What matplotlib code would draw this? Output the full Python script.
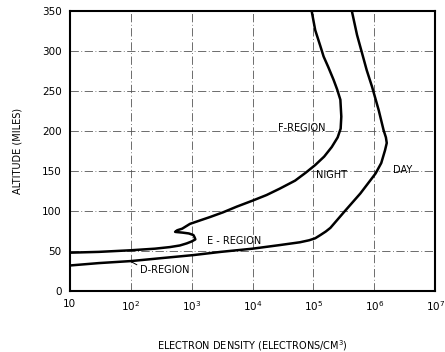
import numpy as np
import matplotlib.pyplot as plt
import matplotlib.ticker as ticker

# night profile (electrons/cm^3, miles)
night_density = [10, 30, 100, 250, 440, 640, 830, 1000, 1150, 1120, 1070, 900, 720, 560, 535,
                 580, 700, 940, 1400, 2000, 3300, 5500, 1.0e4, 1.7e4, 2.8e4, 5.0e4, 7.5e4,
                 1.07e5, 1.5e5, 2.0e5, 2.5e5, 2.8e5, 2.87e5, 2.77e5, 2.45e5, 2.14e5,
                 1.75e5, 1.47e5, 1.3e5, 1.07e5, 9.4e4]
night_alt = [48, 49, 51, 53, 55, 57, 59.6, 62, 64.6, 67, 70, 72, 73, 73.8, 74,
             76, 78, 84, 88.5, 92.5, 98.5, 105.5, 113, 120, 128, 138, 148,
             157.5, 168, 180, 192, 203, 218, 239, 252, 264,
             280, 293, 306, 326, 349]

# day profile
day_density = [10, 30, 100, 300, 1070, 3000, 1.0e4, 2.8e4, 6.0e4, 8.5e4, 1.07e5, 1.3e5,
               1.6e5, 1.9e5, 3.2e5, 5.9e5, 1.05e6, 1.3e6, 1.5e6, 1.6e6, 1.55e6, 1.42e6,
               1.18e6, 9.2e5, 7.5e5, 6.3e5, 5.2e5, 4.3e5]
day_alt = [32, 35, 37.5, 41, 45, 49, 53, 57.5, 61, 63.5, 66, 70,
           74.5, 79, 99, 122, 147, 160, 176, 185, 192, 201,
           226, 255, 276, 297, 320, 349]

x_ticks = [1e1, 1e2, 1e3, 1e4, 1e5, 1e6, 1e7]
x_labels = ["10", "$10^2$", "$10^3$", "$10^4$", "$10^5$", "$10^6$", "$10^7$"]
y_ticks = [0, 50, 100, 150, 200, 250, 300, 350]

fig = plt.figure(figsize=(4.45, 3.52), dpi=100)
ax = fig.add_axes([0.157, 0.173, 0.821, 0.796])

ax.plot(night_density, night_alt, color='black', lw=1.8, solid_joinstyle='round')
ax.plot(day_density, day_alt, color='black', lw=1.8, solid_joinstyle='round')

ax.set_xscale('log')
ax.set_xlim(10, 1e7)
ax.set_ylim(0, 350)
ax.set_xticks(x_ticks)
ax.xaxis.set_major_formatter(ticker.FixedFormatter(x_labels))
ax.xaxis.set_minor_locator(ticker.NullLocator())
ax.set_yticks(y_ticks)
ax.grid(True, color='#555555', lw=0.6, ls=(0, (10, 3, 1, 3)))
ax.tick_params(labelsize=7.5, length=0, pad=6)
for s in ax.spines.values():
    s.set_linewidth(1.5)

ax.text(6.5e4, 204, "F-REGION", fontsize=7, ha='center', va='center')
ax.text(1.1e5, 145, "NIGHT", fontsize=7, ha='left', va='center')
ax.text(2.0e6, 151, "DAY", fontsize=7, ha='left', va='center')
ax.text(1.8e3, 63, "E - REGION", fontsize=7, ha='left', va='center')
ax.annotate("D-REGION", xy=(100, 37), xytext=(140, 26), fontsize=7,
            ha='left', va='center',
            arrowprops=dict(arrowstyle='-', color='black', lw=0.7,
                            relpos=(0, 0.9), shrinkA=0, shrinkB=0))

ax.set_ylabel("ALTITUDE (MILES)", fontsize=7, labelpad=14)
ax.set_xlabel("ELECTRON DENSITY (ELECTRONS/CM$^3$)", fontsize=7, labelpad=18)

plt.savefig("out.png", dpi=100)
